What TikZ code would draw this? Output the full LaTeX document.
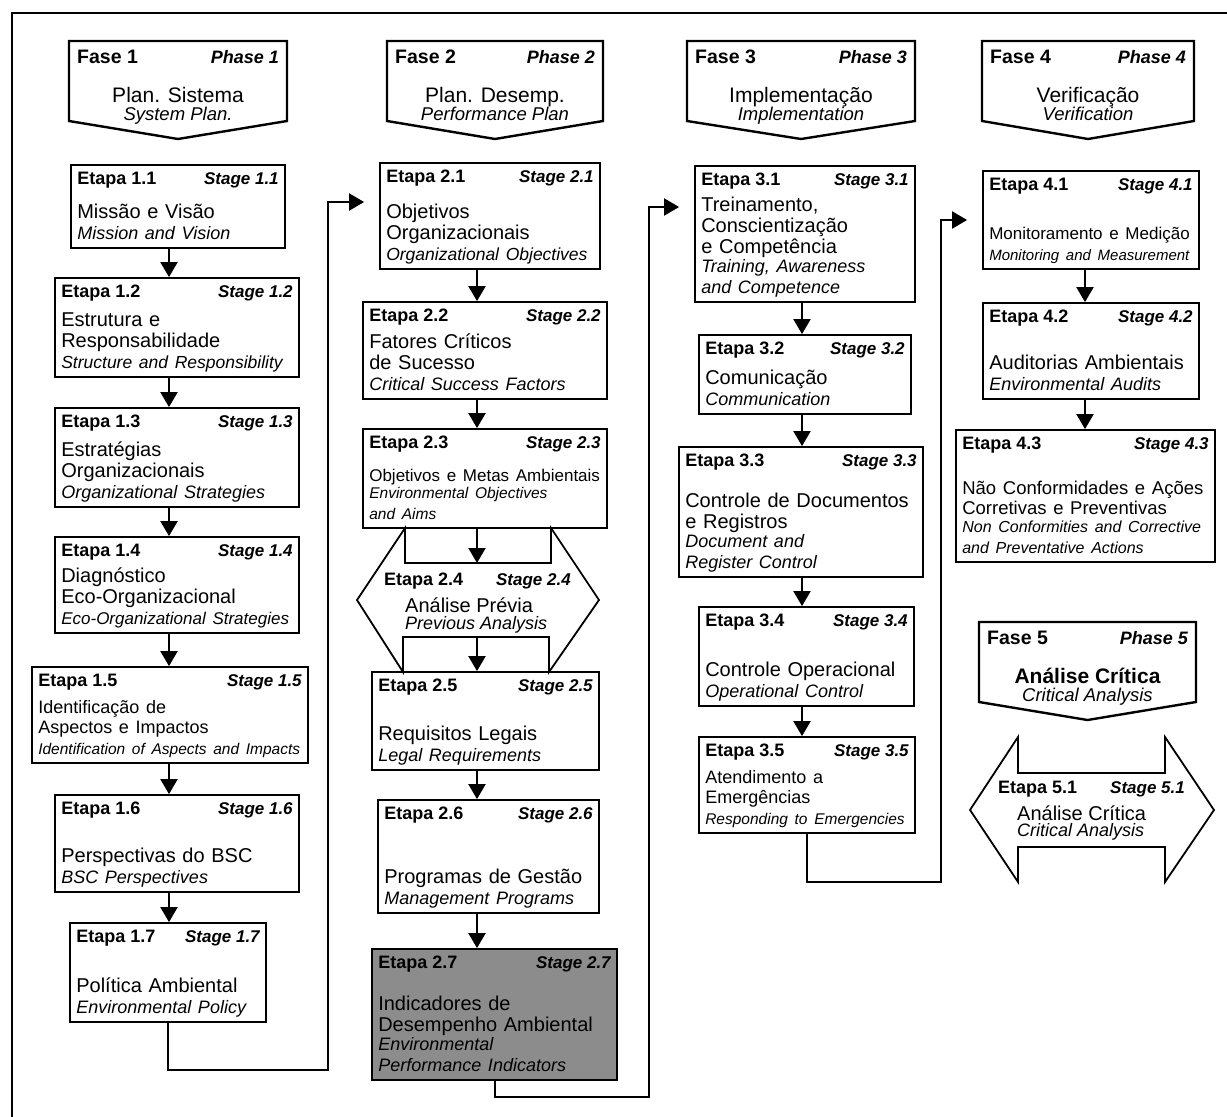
\documentclass[tikz,border=0pt]{standalone}
\usepackage{fontspec}
\setmainfont{Liberation Sans}
\usetikzlibrary{positioning,arrows.meta,fit,calc}

\newcommand{\etf}{\fontsize{18}{20}\selectfont\bfseries}
\newcommand{\faf}{\fontsize{19.5}{22}\selectfont\bfseries}
\newcommand{\stf}{\fontsize{17}{19}\selectfont\bfseries\itshape}
\newcommand{\ptf}{\fontsize{20}{21}\selectfont}
\newcommand{\enf}{\fontsize{18}{19}\selectfont\itshape}
\newcommand{\fs}[2]{\fontsize{#1}{#2}\selectfont}

\begin{document}
\begin{tikzpicture}[x=1pt, y=-1pt,
    etapa/.style={draw, line width=1.8pt, inner sep=0pt},
    etL/.style={anchor=north west, inner xsep=7pt, inner ysep=7pt, text height=13pt, text depth=0pt, font=\etf},
    stL/.style={anchor=north east, inner xsep=7pt, inner ysep=7pt, text height=13pt, text depth=0pt, font=\stf},
    body/.style={anchor=south west, inner xsep=7pt, inner ysep=4pt, text width=262pt, align=left, font=\ptf},
    fase/.style={draw, line width=2.4pt, line join=miter},
    faseL/.style={anchor=north west, inner xsep=8pt, inner ysep=8pt, text height=14pt, text depth=0pt, font=\faf},
    faseR/.style={anchor=north east, inner xsep=8pt, inner ysep=8pt, text height=14pt, text depth=0pt, font=\fs{18}{20}\bfseries\itshape},
    outl/.style={draw, line width=1.8pt, line join=miter},
    arr/.style={line width=2pt, -{Triangle[length=15pt,width=17pt]}},
    link/.style={arr, shorten >=15pt},
]
    \useasboundingbox (0,0) rectangle (1227,1117);

    % Frame
    \draw[line width=2.8pt] (12,1117) -- (12,13) -- (1227,13);

    % Phase headers
    \foreach \l/\r/\t/\n/\pt/\en in {69/287/41/1/{Plan. Sistema}/{System Plan.},
        387/603/41/2/{Plan. Desemp.}/{Performance Plan},
        687/915/41/3/{Implementação}/{Implementation},
        982/1194/41/4/{Verificação}/{Verification},
        979/1196/622/5/{\bfseries Análise Crítica}/{Critical Analysis}} {
        \draw[fase] (\l,\t) -- (\r,\t) -- (\r,\t+80) -- ({(\l+\r)/2},\t+98) -- (\l,\t+80) -- cycle;
        \node[faseL] (f\n) at (\l,\t) {Fase \n};
        \node[faseR] (ph\n) at (\r,\t) {Phase \n};
        \node[font=\fs{21}{24}, anchor=base] (ft\n) at ({(\l+\r)/2},\t+61) {\pt};
        \node[font=\fs{18.5}{20}\itshape, anchor=base] (fe\n) at ({(\l+\r)/2},\t+79) {\en};
    }

    % Column 1
    \node[etapa, fit={(71,165) (285,248)}, label={[etL]north west:Etapa 1.1}, label={[stL]north east:Stage 1.1},
        label={[body]south west:{Missão e Visão\endgraf\enf Mission and Vision\strut}}] (e11) {};
    \node[etapa, fit={(55,278) (299,377)}, label={[etL]north west:Etapa 1.2}, label={[stL]north east:Stage 1.2},
        label={[body]south west:{Estrutura e\\Responsabilidade\endgraf\enf\fs{17.5}{19}Structure and Responsibility\strut}}] (e12) {};
    \node[etapa, fit={(55,408) (299,507)}, label={[etL]north west:Etapa 1.3}, label={[stL]north east:Stage 1.3},
        label={[body]south west:{Estratégias\\Organizacionais\endgraf\enf Organizational Strategies\strut}}] (e13) {};
    \node[etapa, fit={(55,537) (299,633)}, label={[etL]north west:Etapa 1.4}, label={[stL]north east:Stage 1.4},
        label={[body]south west:{Diagnóstico\\Eco-Organizacional\endgraf\enf\fs{17}{19}Eco-Organizational Strategies\strut}}] (e14) {};
    \node[etapa, fit={(32,667) (308,763)}, label={[etL]north west:Etapa 1.5}, label={[stL]north east:Stage 1.5},
        label={[body]south west:{\fs{18}{20}Identificação de\\Aspectos e Impactos\endgraf\enf\fs{15.5}{18}Identification of Aspects and Impacts\strut}}] (e15) {};
    \node[etapa, fit={(55,795) (299,892)}, label={[etL]north west:Etapa 1.6}, label={[stL]north east:Stage 1.6},
        label={[body]south west:{Perspectivas do BSC\endgraf\enf BSC Perspectives\strut}}] (e16) {};
    \node[etapa, fit={(70,923) (266,1022)}, label={[etL]north west:Etapa 1.7}, label={[stL]north east:Stage 1.7},
        label={[body]south west:{Política Ambiental\endgraf\enf Environmental Policy\strut}}] (e17) {};

    % Column 2
    \node[etapa, fit={(380,163) (600,269)}, label={[etL]north west:Etapa 2.1}, label={[stL]north east:Stage 2.1},
        label={[body]south west:{Objetivos\\Organizacionais\endgraf\enf\fs{17.5}{19}Organizational Objectives\strut}}] (e21) {};
    \node[etapa, fit={(363,302) (607,399)}, label={[etL]north west:Etapa 2.2}, label={[stL]north east:Stage 2.2},
        label={[body]south west:{Fatores Críticos\\de Sucesso\endgraf\enf Critical Success Factors\strut}}] (e22) {};
    \node[etapa, fit={(363,429) (607,528)}, label={[etL]north west:Etapa 2.3}, label={[stL]north east:Stage 2.3},
        label={[body]south west:{\fs{17}{19}Objetivos e Metas Ambientais\endgraf\enf\fs{15.5}{17}Environmental Objectives\\and Aims\strut}}] (e23) {};
    \node[etapa, fit={(372,672) (599,770)}, label={[etL]north west:Etapa 2.5}, label={[stL]north east:Stage 2.5},
        label={[body]south west:{Requisitos Legais\endgraf\enf Legal Requirements\strut}}] (e25) {};
    \node[etapa, fit={(378,800) (599,913)}, label={[etL]north west:Etapa 2.6}, label={[stL]north east:Stage 2.6},
        label={[body]south west:{Programas de Gestão\endgraf\enf Management Programs\strut}}] (e26) {};
    \node[etapa, fill=black!45, fit={(372,949) (617,1080)}, label={[etL]north west:Etapa 2.7}, label={[stL]north east:Stage 2.7},
        label={[body]south west:{Indicadores de\\Desempenho Ambiental\endgraf\enf Environmental\\Performance Indicators\strut}}] (e27) {};

    % Stage 2.4 (hexagon)
    \draw[outl] (405,528) -- (405,563) -- (551,563) -- (551,528) -- (599,600) -- (549,672) -- (549,637)
        -- (403,637) -- (403,672) -- (357,600) -- cycle;
    \node[font=\etf, anchor=base west, inner sep=0pt] (e24) at (384,585) {Etapa 2.4};
    \node[font=\stf, anchor=base east, inner sep=0pt] (s24) at (571,585) {Stage 2.4};
    \node[font=\ptf, anchor=base west, inner sep=0pt] (t24) at (405,612) {Análise Prévia};
    \node[font=\enf, anchor=base west, inner sep=0pt] (u24) at (405,629) {Previous Analysis};

    % Column 3
    \node[etapa, fit={(695,166) (915,302)}, label={[etL]north west:Etapa 3.1}, label={[stL]north east:Stage 3.1},
        label={[body]south west:{Treinamento,\\Conscientização\\e Competência\endgraf\enf Training, Awareness\\and Competence\strut}}] (e31) {};
    \node[etapa, fit={(699,335) (911,414)}, label={[etL]north west:Etapa 3.2}, label={[stL]north east:Stage 3.2},
        label={[body]south west:{Comunicação\endgraf\enf Communication\strut}}] (e32) {};
    \node[etapa, fit={(679,447) (923,577)}, label={[etL]north west:Etapa 3.3}, label={[stL]north east:Stage 3.3},
        label={[body]south west:{Controle de Documentos\\e Registros\endgraf\enf Document and\\Register Control\strut}}] (e33) {};
    \node[etapa, fit={(699,607) (914,706)}, label={[etL]north west:Etapa 3.4}, label={[stL]north east:Stage 3.4},
        label={[body]south west:{Controle Operacional\endgraf\enf Operational Control\strut}}] (e34) {};
    \node[etapa, fit={(699,737) (915,833)}, label={[etL]north west:Etapa 3.5}, label={[stL]north east:Stage 3.5},
        label={[body]south west:{\fs{18}{20}Atendimento a\\Emergências\endgraf\enf\fs{15.5}{18}Responding to Emergencies\strut}}] (e35) {};

    % Column 4
    \node[etapa, fit={(983,171) (1199,269)}, label={[etL]north west:Etapa 4.1}, label={[stL]north east:Stage 4.1},
        label={[body]south west:{\fs{17}{19}Monitoramento e Medição\endgraf\enf\fs{15}{17}Monitoring and Measurement\strut}}] (e41) {};
    \node[etapa, fit={(983,303) (1199,399)}, label={[etL]north west:Etapa 4.2}, label={[stL]north east:Stage 4.2},
        label={[body]south west:{Auditorias Ambientais\endgraf\enf Environmental Audits\strut}}] (e42) {};
    \node[etapa, fit={(956,430) (1215,562)}, label={[etL]north west:Etapa 4.3}, label={[stL]north east:Stage 4.3},
        label={[body]south west:{\fs{18.5}{20}Não Conformidades e Ações\\Corretivas e Preventivas\endgraf\enf\fs{16}{18}Non Conformities and Corrective\\and Preventative Actions\strut}}] (e43) {};

    % Stage 5.1 (double arrow)
    \draw[outl] (970,810) -- (1018,737) -- (1018,773) -- (1165,773) -- (1165,737) -- (1214,810) -- (1165,882)
        -- (1165,847) -- (1018,847) -- (1018,882) -- cycle;
    \node[font=\etf, anchor=base west, inner sep=0pt] (e51) at (998,793) {Etapa 5.1};
    \node[font=\stf, anchor=base east, inner sep=0pt] (s51) at (1185,793) {Stage 5.1};
    \node[font=\ptf, anchor=base west, inner sep=0pt] (t51) at (1017,820) {Análise Crítica};
    \node[font=\enf, anchor=base west, inner sep=0pt] (u51) at (1017,836) {Critical Analysis};

    % Arrows inside the columns
    \coordinate (col1) at (169,0);
    \coordinate (col2) at (477,0);
    \coordinate (col3) at (802,0);
    \coordinate (col4) at (1085,0);
    \foreach \a/\b/\c in {e11/e12/col1, e12/e13/col1, e13/e14/col1, e14/e15/col1, e15/e16/col1, e16/e17/col1,
        e21/e22/col2, e22/e23/col2, e25/e26/col2, e26/e27/col2,
        e31/e32/col3, e32/e33/col3, e33/e34/col3, e34/e35/col3,
        e41/e42/col4, e42/e43/col4} {
        \draw[arr] (\a.south -| \c) -- (\b.north -| \c);
    }
    \coordinate (n1) at (477,563);
    \coordinate (n2) at (477,637);
    \draw[arr] (e23.south -| n1) -- (n1);
    \draw[arr] (n2) -- (e25.north -| n2);

    % Links between the phases
    \coordinate (j1) at (328,1070);
    \coordinate (j2) at (649,1097);
    \coordinate (j3) at (941,882);
    \draw[link] (e17.south) |- (j1) |- ([yshift=14pt]e21.west);
    \draw[link] (e27.south) |- (j2) |- ([yshift=27pt]e31.west);
    \draw[link] (e35.south) |- (j3) |- (e41.west);
\end{tikzpicture}
\end{document}
